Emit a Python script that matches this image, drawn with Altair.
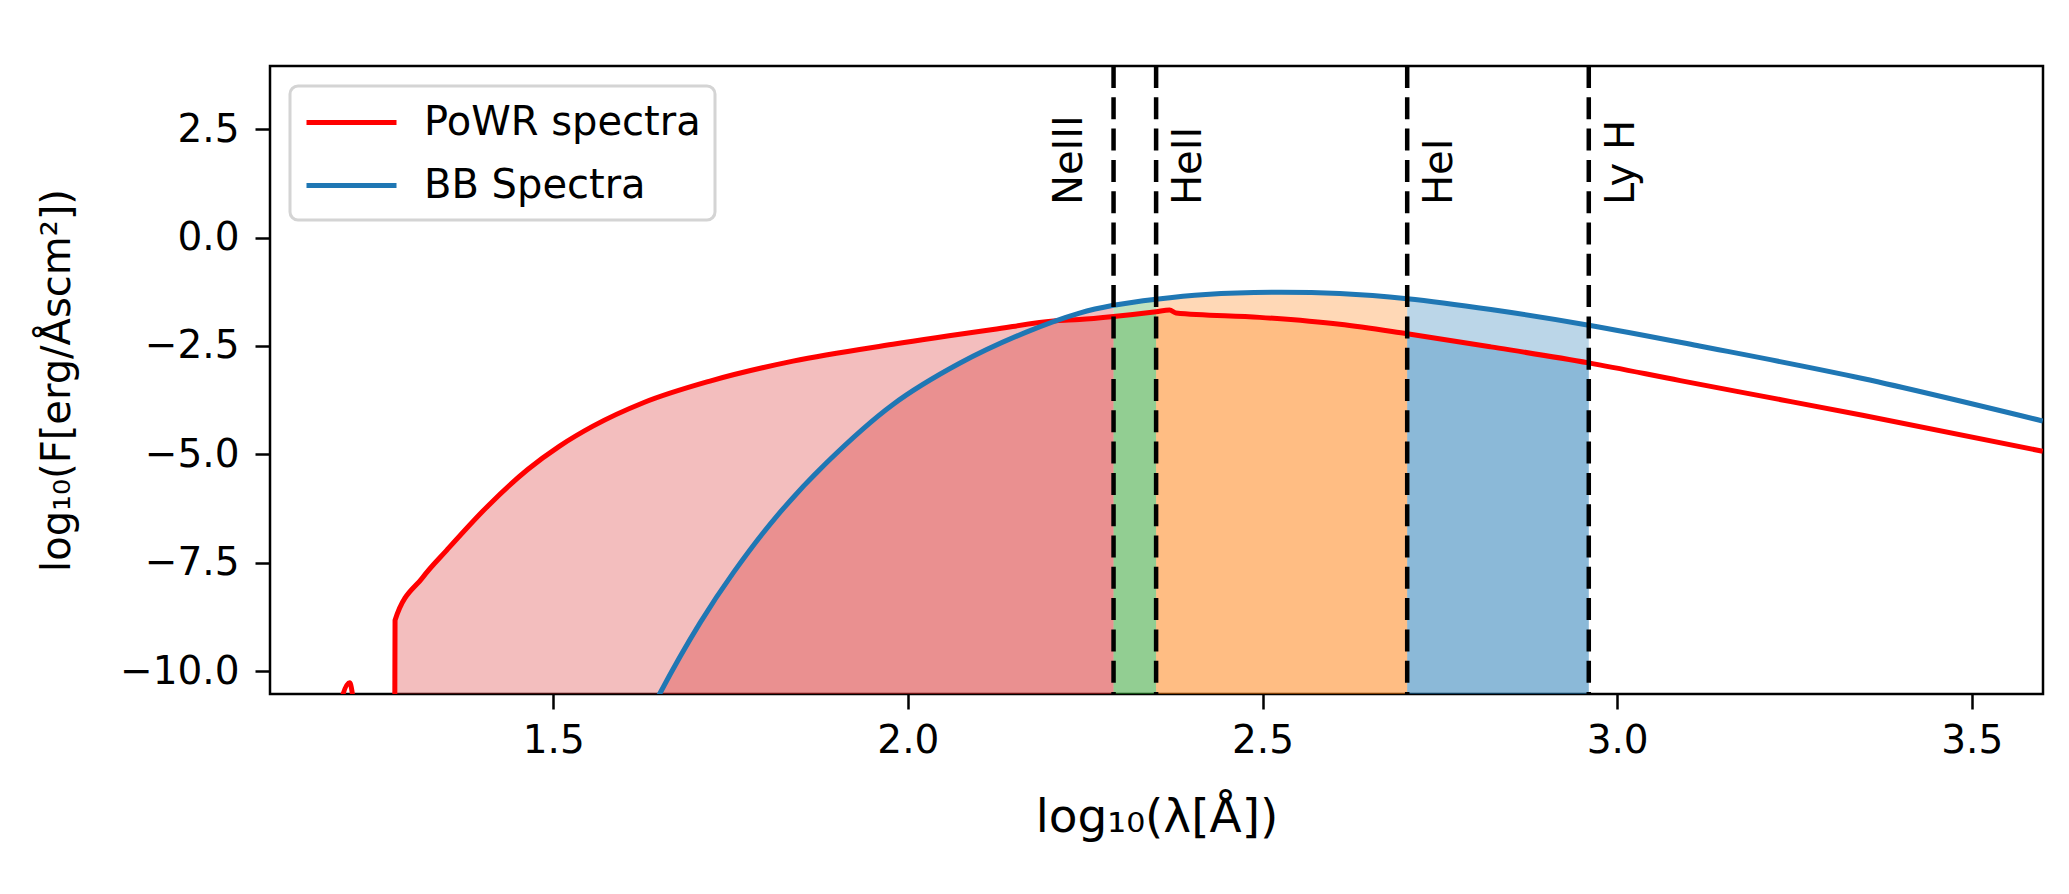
import altair as alt
import pandas as pd

# ---- data ----
red_x = [1.190, 1.213, 1.226, 1.2765, 1.2770, 1.316, 1.350, 1.408, 1.464, 1.509, 1.556, 1.627,
         1.721, 1.838, 1.979, 2.120, 2.209, 2.242, 2.290, 2.350, 2.369, 2.378, 2.496, 2.609,
         2.704, 2.822, 2.960, 3.089, 3.231, 3.346, 3.600]
red_y = [-11.5, -10.27, -11.5, -11.5, -8.83, -7.84, -7.21, -6.19, -5.35, -4.81, -4.35, -3.81,
         -3.31, -2.85, -2.46, -2.12, -1.92, -1.89, -1.82, -1.71, -1.67, -1.74, -1.84, -2.00,
         -2.22, -2.52, -2.89, -3.30, -3.74, -4.10, -4.93]

blue_x = [1.630, 1.650, 1.707, 1.754, 1.815, 1.885, 1.979, 2.073, 2.167, 2.242, 2.290, 2.350,
          2.420, 2.513, 2.609, 2.704, 2.822, 2.960, 3.116, 3.346, 3.600]
blue_y = [-11.2, -10.53, -8.89, -7.73, -6.43, -5.20, -3.85, -2.90, -2.18, -1.74, -1.56, -1.42,
          -1.31, -1.26, -1.29, -1.41, -1.66, -2.02, -2.50, -3.25, -4.23]

series_names = ["PoWR spectra", "BB Spectra"]
series_colors = ["#ff0000", "#1f77b4"]

edge_names = ["NeIII", "HeII", "HeI", "Ly H"]
edge_x = [2.290, 2.350, 2.704, 2.960]
edge_side = ["left", "right", "right", "right"]

region_start = 1.25
region_names = ["r0", "r1", "r2", "r3"]
region_colors = ["#d62728", "#2ca02c", "#ff7f0e", "#1f77b4"]

x_ticks = [1.5, 2.0, 2.5, 3.0, 3.5]
y_ticks = [-10.0, -7.5, -5.0, -2.5, 0.0, 2.5]
x_domain = [1.1007, 3.6004]
y_domain = [-10.53, 3.96]

FONT = "DejaVu Sans"

# ---- tables ----
red_df = pd.DataFrame({"x": red_x, "y": red_y, "i": range(len(red_x)), "series": series_names[0]})
blue_df = pd.DataFrame({"x": blue_x, "y": blue_y, "i": range(len(blue_x)), "series": series_names[1]})

bounds = [region_start] + edge_x


def regions(df):
    parts = []
    for k in range(len(edge_x)):
        lo, hi = bounds[k], bounds[k + 1]
        part = df[(df.x >= lo) & (df.x <= hi)].copy()
        part["region"] = region_names[k]
        parts.append(part)
    return pd.concat(parts, ignore_index=True)


red_fill = regions(red_df)
blue_fill = regions(blue_df)

edges_df = pd.DataFrame({"name": edge_names, "x": edge_x, "side": edge_side})

xs = alt.Scale(domain=x_domain, nice=False, zero=False)
ys = alt.Scale(domain=y_domain, nice=False, zero=False)

x_axis = alt.Axis(values=x_ticks, format=".1f", title="log₁₀(λ[Å])", grid=False, domain=False,
                  labelFont=FONT, labelFontSize=39, labelColor="black", labelPadding=12,
                  tickSize=15, tickWidth=2.5, tickColor="black",
                  titleFont=FONT, titleFontSize=47, titleFontWeight="normal", titleColor="black",
                  titleY=137, titleBaseline="alphabetic")
y_axis = alt.Axis(values=y_ticks, format=".1f", title="log₁₀(F[erg/Åscm²])", grid=False, domain=False,
                  labelFont=FONT, labelFontSize=39, labelColor="black", labelPadding=16,
                  tickSize=15, tickWidth=2.5, tickColor="black",
                  titleFont=FONT, titleFontSize=40, titleFontWeight="normal", titleColor="black",
                  titleAngle=270, titleX=-213, titleY=314, titleAlign="center", titleBaseline="middle")

fill_scale = alt.Scale(domain=region_names, range=region_colors)


def area_layer(df, interp):
    return alt.Chart(df).transform_calculate(base="-11").mark_area(
        opacity=0.3, clip=True, interpolate=interp).encode(
        x=alt.X("x:Q", scale=xs, axis=x_axis),
        y=alt.Y("y:Q", scale=ys, axis=y_axis),
        y2=alt.Y2("base:Q"),
        fill=alt.Fill("region:N", scale=fill_scale, legend=None),
    )


areas_red = area_layer(red_fill, "monotone")
areas_blue = area_layer(blue_fill, "catmull-rom")

red_line = alt.Chart(red_df).mark_line(strokeWidth=5, clip=True, interpolate="monotone").encode(
    x=alt.X("x:Q", scale=xs, axis=x_axis),
    y=alt.Y("y:Q", scale=ys, axis=y_axis),
    order=alt.Order("i:Q"),
    stroke=alt.Stroke("series:N", scale=alt.Scale(domain=series_names, range=series_colors),
                      legend=alt.Legend(orient="none", legendX=20, legendY=20, title=None,
                                        symbolType="M-1,0H3.5", symbolSize=1600, symbolStrokeWidth=5,
                                        labelFont=FONT, labelFontSize=40, labelColor="black",
                                        labelOffset=75, labelLimit=2000, padding=14, rowPadding=20,
                                        strokeColor="#d4d4d4", cornerRadius=8,
                                        fillColor="white")),
)
blue_line = alt.Chart(blue_df).mark_line(strokeWidth=5, clip=True, interpolate="catmull-rom").encode(
    x=alt.X("x:Q", scale=xs, axis=x_axis),
    y=alt.Y("y:Q", scale=ys, axis=y_axis),
    order=alt.Order("i:Q"),
    stroke=alt.Stroke("series:N"),
)

rules = alt.Chart(edges_df).mark_rule(color="black", strokeWidth=4.5, strokeDash=[22, 9.3]).encode(
    x=alt.X("x:Q", scale=xs, axis=x_axis),
)

txt_common = dict(angle=270, align="left", baseline="middle", font=FONT, fontSize=40, color="black")
labels_left = alt.Chart(edges_df).transform_filter(alt.datum.side == "left").mark_text(
    dy=-44, **txt_common).encode(x=alt.X("x:Q", scale=xs, axis=x_axis), y=alt.value(139), text="name:N")
labels_right = alt.Chart(edges_df).transform_filter(alt.datum.side == "right").mark_text(
    dy=33, **txt_common).encode(x=alt.X("x:Q", scale=xs, axis=x_axis), y=alt.value(139), text="name:N")

chart = alt.layer(areas_red, areas_blue, red_line, blue_line, rules, labels_left, labels_right).properties(
    width=1773, height=628,
    autosize=alt.AutoSizeParams(type="none"),
    padding={"left": 262, "top": 58, "right": 10, "bottom": 180},
    background="white",
).configure_view(stroke="black", strokeWidth=2.5).configure_legend(strokeWidth=3)

chart.save("out.html", embed_options={"renderer": "svg", "actions": False})
